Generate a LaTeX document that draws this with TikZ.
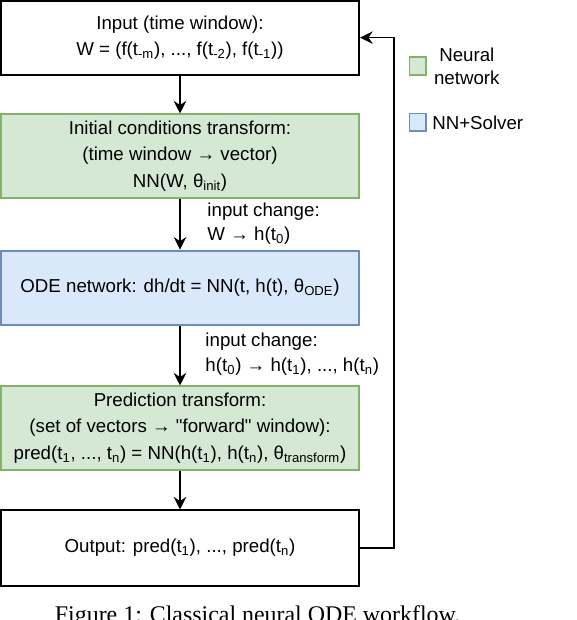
\documentclass[tikz,border=0pt]{standalone}
\usepackage{fontspec}
\setmainfont{Liberation Sans}
\newfontfamily\captionserif{Liberation Serif}
\usetikzlibrary{positioning, arrows.meta}

\definecolor{nnfill}{HTML}{D5E8D4}
\definecolor{nnline}{HTML}{82B366}
\definecolor{solverfill}{HTML}{DAE8FC}
\definecolor{solverline}{HTML}{6C8EBF}

\tikzset{
	block/.style={draw, line width=1.3pt, minimum width=8.96cm, inner sep=0pt, align=center, font=\fontsize{13.3}{18.8}\selectfont},
	nnblock/.style={block, fill=nnfill, draw=nnline},
	solverblock/.style={block, fill=solverfill, draw=solverline},
	flow/.style={line width=1pt, -{Stealth[length=9pt, width=9pt, inset=3pt]}},
	changelabel/.style={anchor=west, align=left, inner sep=0pt, font=\fontsize{13.3}{17.5}\selectfont},
	legendbox/.style={line width=1pt, minimum width=0.42cm, minimum height=0.44cm, inner sep=0pt}
}

\begin{document}
\begin{tikzpicture}
	\useasboundingbox (0, 0) rectangle (14.4, -15.5);

	% blocks of the workflow
	\node[block, minimum height=1.85cm] (input) at (4.5, -0.94) {Input (time window):\\W = (f(t\textsubscript{-m}), ..., f(t\textsubscript{-2}), f(t\textsubscript{-1}))};
	\node[nnblock, minimum height=2.08cm] (init) at (4.5, -3.9) {Initial conditions transform:\\(time window → vector)\\NN(W, θ\textsubscript{init})};
	\node[solverblock, minimum height=1.85cm] (ode) at (4.5, -7.19) {ODE network: dh/dt = NN(t, h(t), θ\textsubscript{ODE})};
	\node[nnblock, minimum height=2.08cm] (pred) at (4.5, -10.7) {Prediction transform:\\(set of vectors → \textquotedbl forward\textquotedbl{} window):\\pred(t\textsubscript{1}, ..., t\textsubscript{n}) = NN(h(t\textsubscript{1}), h(t\textsubscript{n}), θ\textsubscript{transform})};
	\node[block, minimum height=1.88cm] (output) at (4.5, -13.7) {Output: pred(t\textsubscript{1}), ..., pred(t\textsubscript{n})};

	% arrows
	\draw[flow] (input) -- (init);
	\draw[flow] (init) -- (ode);
	\draw[flow] (ode) -- (pred);
	\draw[flow] (pred) -- (output);
	\coordinate (back) at (9.85, 0);
	\draw[flow] (output.east) -- (output.east -| back) -- (input.east -| back) -- (input.east);%Rueckkopplung

	% labels at the arrows
	\node[changelabel] (change1) at (5.18, -5.59) {input change:\\W → h(t\textsubscript{0})};
	\node[changelabel] (change2) at (5.13, -8.86) {input change:\\h(t\textsubscript{0}) → h(t\textsubscript{1}), ..., h(t\textsubscript{n})};

	% legend
	\node[legendbox, fill=nnfill, draw=nnline] (legnn) at (10.44, -1.65) {};
	\node[align=center, inner sep=0pt, font=\fontsize{13.3}{16.5}\selectfont] (legnntext) at (11.67, -1.65) {Neural\\network};
	\node[legendbox, fill=solverfill, draw=solverline] (legsolver) at (10.44, -3.06) {};
	\node[anchor=west, inner sep=0pt, font=\fontsize{13.3}{16}\selectfont] (legsolvertext) at (10.8, -3.06) {NN+Solver};

	% caption
	\node[anchor=base, inner sep=0pt, font=\captionserif\fontsize{17}{20}\selectfont] (figcaption) at (6.44, -15.57) {Figure 1: Classical neural ODE workflow.};
\end{tikzpicture}
\end{document}
